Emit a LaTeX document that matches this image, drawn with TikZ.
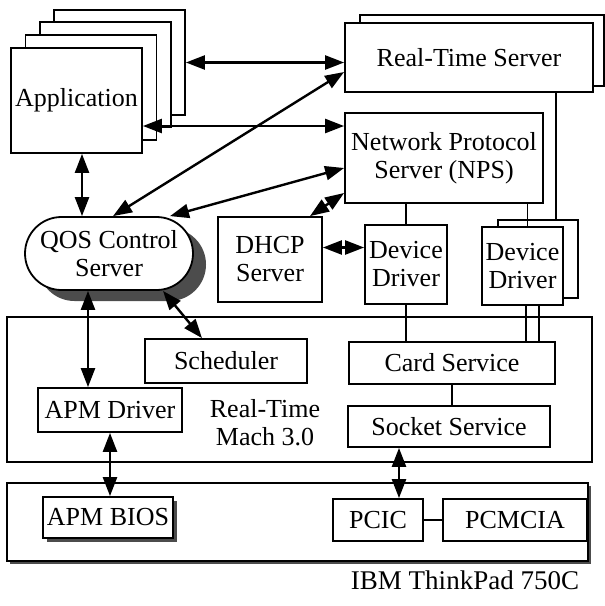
\documentclass[tikz,border=0pt]{standalone}
\usepackage{fontspec}
\setmainfont{Liberation Serif}
\usetikzlibrary{arrows.meta,shadows}

\newcommand{\figfont}{\fontsize{26}{28}\selectfont}

\begin{document}
\begin{tikzpicture}[x=1pt, y=-1pt,
  blk/.style={draw, line width=1.8pt, fill=white, inner sep=0pt, align=center, font=\figfont},
  dbl/.style={>={Triangle[length=19pt,width=14pt]}, <->, line width=2.4pt},
  ln/.style={line width=1.8pt}]
\useasboundingbox (0,0) rectangle (605,606);

% application stack
\node[blk, minimum width=131pt, minimum height=105pt] (app3) at (119.5,62.5){};
\node[blk, minimum width=131pt, minimum height=105pt] (app2) at (105.5,74.5){};
\node[blk, minimum width=131pt, minimum height=105pt] (app1) at (91,87.5){};
\node[blk, minimum width=131pt, minimum height=105pt] (app) at (76.5,100.5){Application};

% servers
\node[blk, minimum width=244pt, minimum height=71pt] (rtsb) at (482,50.5){};
\node[blk, minimum width=248pt, minimum height=69pt] (rts) at (469,57.5){Real-Time Server};
\node[blk, minimum width=198pt, minimum height=90pt] (nps) at (444,158){Network Protocol\\Server (NPS)};
\node[blk, minimum width=168pt, minimum height=73pt, rounded corners=36.5pt,
  drop shadow={shadow xshift=13pt, shadow yshift=-11pt, fill=black!70, opacity=1}] (qos) at (109,253.5){QOS Control\\Server};
\node[blk, minimum width=104pt, minimum height=85pt] (dhcp) at (270,259.5){DHCP\\Server};
\node[blk, minimum width=82pt, minimum height=79pt] (dd1) at (406,264.5){Device\\Driver};
\node[blk, minimum width=80pt, minimum height=78pt] (dd2b) at (538,259){};
\node[blk, minimum width=81pt, minimum height=78pt] (dd2) at (522.5,266){Device\\Driver};

% Real-Time Mach
\node[blk, minimum width=585pt, minimum height=145pt, fill=none] (mach) at (299.5,389.5){};
\node[font=\figfont, align=center, inner sep=0pt] (machlbl) at (265,423){Real-Time\\Mach 3.0};
\node[blk, minimum width=162pt, minimum height=44pt] (sched) at (226,361){Scheduler};
\node[blk, minimum width=206pt, minimum height=42pt] (card) at (452,363){Card Service};
\node[blk, minimum width=144pt, minimum height=44pt] (apmdrv) at (110,410){APM Driver};
\node[blk, minimum width=202pt, minimum height=41pt] (socket) at (449,426.5){Socket Service};

% hardware
\node[blk, minimum width=581pt, minimum height=78pt,
  drop shadow={shadow xshift=3pt, shadow yshift=-3pt, fill=black!70, opacity=1}] (hw) at (297.5,522){};
\node[blk, minimum width=130pt, minimum height=41pt,
  drop shadow={shadow xshift=4pt, shadow yshift=-4pt, fill=black!70, opacity=1}] (apmbios) at (108,517.5){APM BIOS};
\node[blk, minimum width=90pt, minimum height=42pt] (pcic) at (378,520){PCIC};
\node[blk, minimum width=144pt, minimum height=42pt] (pcmcia) at (515,520){PCMCIA};
\node[font=\fontsize{27}{30}\selectfont, inner sep=0pt] (tp) at (465,580){IBM ThinkPad 750C};

% arrows
\draw[dbl] (app3.east) -- (app3.east -| rts.west);
\draw[dbl] ([yshift=-25.5pt]app.east) -- ([yshift=-25.5pt]app.east -| nps.west);
\draw[dbl] ([xshift=5.5pt]app.south) -- ([xshift=5.5pt]app.south |- qos.north);
\draw[dbl] ([xshift=4pt]qos.north) -- ([yshift=-14.5pt]rts.west);
\draw[dbl] ([xshift=61pt]qos.north) -- ([yshift=-10pt]nps.west);
\draw[dbl] ([xshift=40pt]dhcp.north) -- ([yshift=-35pt]nps.west);
\draw[dbl] ([yshift=12pt]dhcp.east) -- ([yshift=12pt]dhcp.east -| dd1.west);
\draw[dbl] ([xshift=54pt]qos.south) -- ([xshift=-24pt]sched.north);
\draw[dbl] ([xshift=-21pt]qos.south) -- ([xshift=-21pt]qos.south |- apmdrv.north);
\draw[dbl] (apmdrv.south) -- (apmdrv.south |- apmbios.north);
\draw[dbl] ([xshift=-50pt]socket.south) -- ([xshift=-50pt]socket.south |- pcic.north);

% plain links
\draw[ln] (dd1.north) -- (dd1.north |- nps.south);
\draw[ln] ([xshift=5pt]dd2.north) -- ([xshift=5pt]dd2.north |- nps.south);
\draw[ln] ([xshift=18pt]dd2b.north) -- ([xshift=18pt]dd2b.north |- rts.south);
\draw[ln] (dd1.south) -- (dd1.south |- card.north);
\draw[ln] ([xshift=3.5pt]dd2.south) -- ([xshift=3.5pt]dd2.south |- card.north);
\draw[ln] ([xshift=16.5pt]dd2.south) -- ([xshift=16.5pt]dd2.south |- card.north);
\draw[ln] (card.south) -- (card.south |- socket.north);
\draw[ln] (pcic.east) -- (pcmcia.west);

\end{tikzpicture}
\end{document}
